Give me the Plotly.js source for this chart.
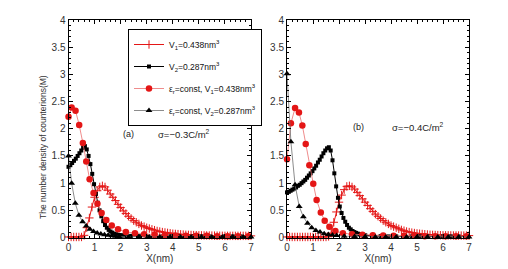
<!DOCTYPE html>
<html>
<head>
<meta charset="utf-8">
<script src="https://cdn.plot.ly/plotly-3.0.1.min.js"></script>
<style>html,body{margin:0;padding:0;background:#fff;}#chart{width:508px;height:269px;}</style>
</head>
<body>
<div id="chart"></div>
<script>
// ---------- Data ----------
// Panel (a), sigma = -0.3 C/m^2
const a_V1_x = [0,0.1,0.2,0.3,0.4,0.5,0.6,0.7,0.8,0.9,1.0,1.1,1.2,1.3,1.4,1.5,1.6,1.7,1.8,1.9,2.0,2.1,2.2,2.3,2.4,2.5,2.6,2.7,2.8,2.9,3.0,3.1,3.2,3.3,3.4,3.5,3.6,3.7,3.8,3.9,4.0,4.1,4.2,4.3,4.4,4.5,4.6,4.7,4.8,4.9,5.0,5.1,5.2,5.3,5.4,5.5,5.6,5.7,5.8,5.9,6.0,6.1,6.2,6.3,6.4,6.5,6.6,6.7,6.8,6.9,7.0];
const a_V1_y = [0.01,0.01,0.01,0.01,0.01,0.01,0.04,0.18,0.36,0.56,0.74,0.86,0.93,0.95,0.93,0.87,0.80,0.74,0.68,0.61,0.55,0.49,0.44,0.39,0.35,0.31,0.28,0.25,0.22,0.20,0.18,0.165,0.15,0.135,0.12,0.11,0.10,0.093,0.085,0.078,0.07,0.066,0.062,0.058,0.054,0.05,0.048,0.046,0.044,0.042,0.04,0.039,0.038,0.037,0.036,0.035,0.034,0.033,0.032,0.031,0.03,0.03,0.03,0.03,0.03,0.03,0.03,0.03,0.03,0.03,0.03];

const a_V2_x = [0,0.07,0.14,0.21,0.28,0.35,0.42,0.49,0.56,0.63,0.70,0.77,0.84,0.91,0.98,1.05,1.12,1.19,1.26,1.33,1.40,1.47,1.54,1.61,1.68,1.75,1.82,1.89,1.96,2.03,2.1,2.4,2.7,3.0,3.3,3.6,3.9,4.2,4.5,4.8,5.1,5.4,5.7,6.0,6.3,6.6,6.9];
const a_V2_y = [1.30,1.33,1.37,1.41,1.45,1.50,1.55,1.60,1.65,1.68,1.62,1.50,1.35,1.17,0.98,0.80,0.64,0.50,0.39,0.30,0.23,0.18,0.14,0.11,0.09,0.07,0.06,0.05,0.045,0.04,0.035,0.03,0.025,0.02,0.02,0.02,0.02,0.02,0.02,0.02,0.02,0.02,0.02,0.02,0.02,0.02,0.02];

const a_E1_x = [0,0.12,0.27,0.41,0.55,0.68,0.81,0.96,1.11,1.27,1.45,1.66,1.9,2.2,2.55,2.9,3.3,3.7,4.1,4.5,4.9,5.3,5.7,6.1,6.5,6.9];
const a_E1_y = [2.22,2.39,2.33,2.07,1.74,1.40,1.07,0.82,0.62,0.45,0.32,0.22,0.15,0.10,0.08,0.06,0.05,0.04,0.035,0.03,0.03,0.03,0.025,0.025,0.025,0.025];

const a_E2_x = [0,0.12,0.26,0.40,0.54,0.68,0.82,0.96,1.10,1.24,1.38,1.52,1.66,1.80,1.94,2.3,2.7,3.1,3.5,3.9,4.3,4.7,5.1,5.5,5.9,6.3,6.7,7.0];
const a_E2_y = [1.50,1.00,0.63,0.41,0.29,0.21,0.15,0.11,0.085,0.065,0.05,0.04,0.03,0.025,0.02,0.01,0.01,0.01,0.01,0.01,0.01,0.01,0.01,0.01,0.01,0.01,0.01,0.01];

// Panel (b), sigma = -0.4 C/m^2
const b_V1_x = a_V1_x;
const b_V1_y = [0.01,0.01,0.01,0.01,0.01,0.01,0.01,0.01,0.01,0.01,0.01,0.01,0.01,0.01,0.01,0.01,0.02,0.08,0.28,0.47,0.65,0.78,0.88,0.94,0.95,0.93,0.89,0.83,0.77,0.71,0.65,0.59,0.53,0.48,0.43,0.39,0.35,0.31,0.28,0.25,0.22,0.20,0.18,0.16,0.14,0.125,0.11,0.10,0.09,0.082,0.075,0.07,0.065,0.06,0.055,0.05,0.048,0.046,0.044,0.042,0.04,0.04,0.039,0.038,0.037,0.036,0.036,0.035,0.035,0.035,0.035];

const b_V2_x = [0,0.07,0.14,0.21,0.28,0.35,0.42,0.49,0.56,0.63,0.70,0.77,0.84,0.91,0.98,1.05,1.12,1.19,1.26,1.33,1.40,1.47,1.54,1.61,1.68,1.75,1.82,1.89,1.96,2.03,2.1,2.17,2.24,2.31,2.38,2.45,2.52,2.59,2.66,2.73,2.8,2.87,2.94,3.01,3.3,3.6,3.9,4.2,4.5,4.8,5.1,5.4,5.7,6.0,6.3,6.6,6.9];
const b_V2_y = [0.83,0.84,0.86,0.88,0.90,0.92,0.95,0.97,1.00,1.03,1.06,1.10,1.14,1.18,1.22,1.27,1.32,1.38,1.43,1.49,1.55,1.60,1.64,1.66,1.60,1.42,1.18,0.94,0.73,0.57,0.45,0.36,0.29,0.23,0.18,0.15,0.12,0.10,0.085,0.07,0.06,0.05,0.045,0.04,0.03,0.025,0.02,0.02,0.02,0.02,0.02,0.02,0.02,0.02,0.02,0.02,0.02];

const b_E1_x = [0,0.15,0.31,0.46,0.59,0.72,0.86,1.01,1.14,1.30,1.45,1.63,1.86,2.15,2.5,2.9,3.3,3.7,4.1,4.5,4.9,5.3,5.7,6.1,6.5,6.9];
const b_E1_y = [1.44,2.10,2.38,2.30,2.06,1.72,1.33,0.99,0.69,0.46,0.31,0.20,0.12,0.08,0.06,0.05,0.04,0.035,0.03,0.03,0.03,0.025,0.025,0.025,0.025,0.025];

const b_E2_x = [0,0.15,0.31,0.47,0.63,0.79,0.95,1.11,1.27,1.43,1.59,1.75,1.91,2.2,2.6,3.0,3.4,3.8,4.2,4.6,5.0,5.4,5.8,6.2,6.6,7.0];
const b_E2_y = [3.01,1.76,0.97,0.57,0.38,0.26,0.18,0.13,0.10,0.07,0.055,0.045,0.035,0.025,0.02,0.015,0.01,0.01,0.01,0.01,0.01,0.01,0.01,0.01,0.01,0.01];

const legendNames = [
  'V<sub>1</sub>=0.438nm<sup>3</sup>',
  'V<sub>2</sub>=0.287nm<sup>3</sup>',
  'ε<sub>r</sub>=const, V<sub>1</sub>=0.438nm<sup>3</sup>',
  'ε<sub>r</sub>=const, V<sub>2</sub>=0.287nm<sup>3</sup>'
];
const panelLabels = ['(a)', '(b)'];
const sigmaLabels = ['σ=−0.3C/m<sup>2</sup>', 'σ=−0.4C/m<sup>2</sup>'];
const yTitle = 'The number density of counterions(M)';
const xTitle = 'X(nm)';

// ---------- Styles ----------
const FONT = 'Liberation Sans, Arial, sans-serif';
const RED = 'rgb(228,22,22)';
const styles = [
  {mode:'lines+markers', line:{color:RED,width:1}, marker:{symbol:'cross-thin',size:6,color:RED,line:{color:RED,width:1}}},
  {mode:'lines+markers', line:{color:'#000',width:1}, marker:{symbol:'square',size:4,color:'#000'}},
  {mode:'lines+markers', line:{color:'rgb(235,110,110)',width:0.8}, marker:{symbol:'circle',size:6.5,color:RED}},
  {mode:'lines+markers', line:{color:'rgb(110,110,110)',width:0.8}, marker:{symbol:'triangle-up',size:6,color:'#000'}}
];

function mk(x, y, i, axis, show) {
  return Object.assign({
    type:'scatter', x:x, y:y, name:legendNames[i], showlegend:show,
    legendgroup:'g'+i, xaxis:axis[0], yaxis:axis[1], cliponaxis:false
  }, JSON.parse(JSON.stringify(styles[i])));
}

const A = ['x','y'], B = ['x2','y2'];
const traces = [
  mk(a_V1_x,a_V1_y,0,A,true),
  mk(a_V2_x,a_V2_y,1,A,true),
  mk(a_E1_x,a_E1_y,2,A,true),
  mk(a_E2_x,a_E2_y,3,A,true),
  mk(b_V1_x,b_V1_y,0,B,false),
  mk(b_V2_x,b_V2_y,1,B,false),
  mk(b_E1_x,b_E1_y,2,B,false),
  mk(b_E2_x,b_E2_y,3,B,false)
];

const W = 508, H = 269;
const tickFont = {family:FONT, size:10, color:'#333'};
function xa(domain, anchor) {
  return {
    domain:domain, anchor:anchor, range:[0,7], dtick:1, tick0:0,
    showline:true, linecolor:'#000', linewidth:1, mirror:'allticks',
    ticks:'inside', ticklen:4, tickcolor:'#000', tickwidth:1,
    minor:{ticks:'inside', ticklen:2, dtick:0.2, tickcolor:'#000', tickwidth:1},
    showgrid:false, zeroline:false, tickfont:tickFont,
    title:{text:xTitle, font:{family:FONT, size:10, color:'#333'}, standoff:2}
  };
}
function ya(domain, anchor) {
  return {
    domain:domain, anchor:anchor, range:[0,4], dtick:0.5, tick0:0,
    showline:true, linecolor:'#000', linewidth:1, mirror:'allticks',
    ticks:'inside', ticklen:4, tickcolor:'#000', tickwidth:1,
    minor:{ticks:'inside', ticklen:2, dtick:0.1, tickcolor:'#000', tickwidth:1},
    showgrid:false, zeroline:false, tickfont:tickFont
  };
}

const yDom = [1-237.5/H, 1-20/H];
const layout = {
  width:W, height:H,
  margin:{l:0,r:0,t:0,b:0},
  paper_bgcolor:'#fff', plot_bgcolor:'#fff',
  font:{family:FONT, size:10, color:'#222'},
  xaxis: xa([68.5/W, 251/W], 'y'),
  yaxis: ya(yDom, 'x'),
  xaxis2: xa([287/W, 469/W], 'y2'),
  yaxis2: ya(yDom, 'x2'),
  showlegend:true,
  legend:{
    x:128/W, y:1-29/H, xanchor:'left', yanchor:'top',
    bgcolor:'#fff', bordercolor:'#000', borderwidth:1,
    font:{family:FONT, size:8.5, color:'#111'},
    itemwidth:30, tracegroupgap:3
  },
  annotations:[
    {xref:'paper', yref:'paper', x:43/W, y:1-147/H, xanchor:'center', yanchor:'middle',
     text:yTitle, textangle:-90, showarrow:false, font:{family:FONT, size:8.5, color:'#333'}},
    {xref:'x', yref:'y', x:2.29, y:1.9, text:panelLabels[0], showarrow:false, font:{size:9,color:'#222'}},
    {xref:'x', yref:'y', x:4.43, y:1.9, text:sigmaLabels[0], showarrow:false, font:{size:9.5,color:'#222'}},
    {xref:'x2', yref:'y2', x:2.74, y:2.03, text:panelLabels[1], showarrow:false, font:{size:9,color:'#222'}},
    {xref:'x2', yref:'y2', x:5.04, y:2.03, text:sigmaLabels[1], showarrow:false, font:{size:9.5,color:'#222'}}
  ]
};

Plotly.newPlot('chart', traces, layout, {staticPlot:true, displayModeBar:false});
</script>
</body>
</html>
